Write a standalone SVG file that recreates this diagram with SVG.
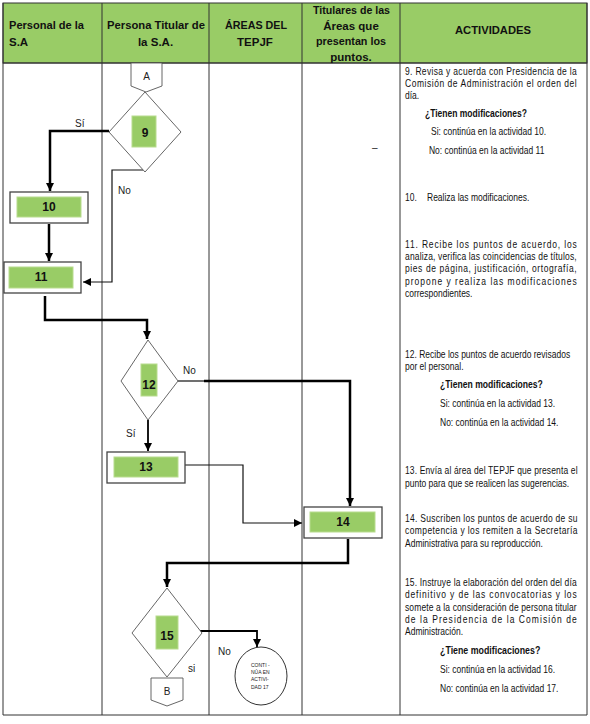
<svg xmlns="http://www.w3.org/2000/svg" width="590" height="724" viewBox="0 0 590 724">
<style>
.hd{font-family:"Liberation Sans",Arial,sans-serif;font-weight:bold;font-size:11.5px;fill:#111}
.tx{font-family:"Liberation Sans",Arial,sans-serif;font-size:10px;fill:#111}
.tb{font-family:"Liberation Sans",Arial,sans-serif;font-size:11px;font-weight:bold;fill:#111}
.nl{font-family:"Liberation Sans",Arial,sans-serif;font-weight:bold;font-size:12px;fill:#111;text-anchor:middle}
.lb{font-family:"Liberation Sans",Arial,sans-serif;font-size:10px;fill:#222}
.sm{font-family:"Liberation Sans",Arial,sans-serif;font-size:5px;fill:#222}
.box{fill:#fff;stroke:#444;stroke-width:1.3}
.grn{fill:#99cc66;stroke:#b8dc8e;stroke-width:1}
.dia{fill:#fff;stroke:#555;stroke-width:0.9}
.grid{stroke:#333;stroke-width:1;fill:none}
.thick{fill:none;stroke:#000;stroke-width:2.5}
.mid{fill:none;stroke:#000;stroke-width:1.8}
.thin{fill:none;stroke:#111;stroke-width:1.2}
</style>
<defs>
<marker id="ah" viewBox="0 0 10 10" refX="10" refY="5" markerWidth="8" markerHeight="9" markerUnits="userSpaceOnUse" orient="auto">
<path d="M0,0 L10,5 L0,10 Z" fill="#000"/>
</marker>
</defs>
<rect x="0" y="0" width="590" height="724" fill="#fff"/>
<g id="table">
<rect x="3" y="3" width="584" height="60" fill="#99cc66" stroke="#333" stroke-width="1"/>
<path class="grid" d="M3,3 V715 M587,3 V715 M102,3 V715 M209,3 V715 M302,3 V715 M400,3 V715 M3,715 H587 M3,63 H587"/>
<text class="hd" x="9" y="29" textLength="75" lengthAdjust="spacingAndGlyphs">Personal de la</text>
<text class="hd" x="9" y="46">S.A</text>
<text class="hd" x="107" y="29" textLength="98" lengthAdjust="spacingAndGlyphs">Persona Titular de</text>
<text class="hd" x="155.5" y="46" text-anchor="middle">la S.A.</text>
<text class="hd" x="256" y="29" text-anchor="middle" textLength="62" lengthAdjust="spacingAndGlyphs">ÁREAS DEL</text>
<text class="hd" x="255" y="46" text-anchor="middle">TEPJF</text>
<text class="hd" x="313" y="14" textLength="77" lengthAdjust="spacingAndGlyphs">Titulares de las</text>
<text class="hd" x="351" y="30" text-anchor="middle">Áreas que</text>
<text class="hd" x="316" y="45" textLength="70" lengthAdjust="spacingAndGlyphs">presentan los</text>
<text class="hd" x="351" y="61" text-anchor="middle">puntos.</text>
<text class="hd" x="455" y="34" textLength="76" lengthAdjust="spacingAndGlyphs">ACTIVIDADES</text>
</g>
<g id="connectors">
<path class="thick" d="M109,131 H50 V191" marker-end="url(#ah)"/>
<path class="thin" d="M143,170 H112 V282 H83" marker-end="url(#ah)"/>
<path class="thick" d="M49,224 V261" marker-end="url(#ah)"/>
<path class="thick" d="M45,296 V320 H147 V339" marker-end="url(#ah)"/>
<path class="thin" d="M178,381 H204"/>
<path class="thick" d="M204,381 H350 V506" marker-end="url(#ah)"/>
<path class="mid" d="M148,420 V451" marker-end="url(#ah)"/>
<path class="thin" d="M185,465 H243 V523 H302" marker-end="url(#ah)"/>
<path class="thick" d="M348,539 V563 H167 V587" marker-end="url(#ah)"/>
<path class="mid" d="M200,631 H257 V647" marker-end="url(#ah)"/>
</g>
<g id="labels">
<text class="lb" x="75" y="127">Sí</text>
<text class="lb" x="118" y="194">No</text>
<text class="lb" x="183" y="374">No</text>
<text class="lb" x="126" y="437">Sí</text>
<text class="lb" x="218" y="655">No</text>
<text class="lb" x="188" y="672">si</text>
<text class="lb" x="372" y="151">–</text>
</g>
<g id="nodeA">
<polygon class="dia" points="131,63 162,63 162,86 146,92 131,86"/>
<text class="lb" x="146.5" y="80" text-anchor="middle">A</text>
</g>
<g id="node9">
<polygon class="dia" points="145,92 181,132 145,172 109,132"/>
<rect class="grn" x="132" y="116" width="24" height="31"/>
<text class="nl" x="145" y="137">9</text>
</g>
<g id="node10">
<rect class="box" x="10" y="192" width="78" height="31"/>
<rect class="grn" x="17" y="197" width="64" height="20"/>
<text class="nl" x="49" y="211">10</text>
</g>
<g id="node11">
<rect class="box" x="4" y="262" width="77" height="31"/>
<rect class="grn" x="9" y="267" width="64" height="21"/>
<text class="nl" x="41" y="281">11</text>
</g>
<g id="node12">
<polygon class="dia" points="148,340 178,381 148,420 121,381"/>
<rect class="grn" x="141" y="364" width="16" height="32"/>
<text class="nl" x="149" y="389">12</text>
</g>
<g id="node13">
<rect class="box" x="107" y="452" width="78" height="31"/>
<rect class="grn" x="114" y="457" width="64" height="20"/>
<text class="nl" x="146" y="471">13</text>
</g>
<g id="node14">
<rect class="box" x="304" y="507" width="78" height="31"/>
<rect class="grn" x="310" y="512" width="65" height="20"/>
<text class="nl" x="343" y="526">14</text>
</g>
<g id="node15">
<polygon class="dia" points="167,588 202,633 167,677 132,633"/>
<rect class="grn" x="156" y="616" width="22" height="33"/>
<text class="nl" x="167" y="640">15</text>
</g>
<g id="nodeB">
<polygon class="dia" points="151,678 183,678 183,700 167,706 151,700"/>
<text class="lb" x="167" y="695" text-anchor="middle">B</text>
</g>
<g id="node17">
<ellipse cx="261" cy="676" rx="26" ry="29" fill="#fff" stroke="#333" stroke-width="1"/>
<text class="sm" x="251" y="667">CONTI -</text>
<text class="sm" x="251" y="674">NÚA EN</text>
<text class="sm" x="251" y="681">ACTIVI-</text>
<text class="sm" x="251" y="689">DAD 17</text>
</g>
<g id="activities" transform="translate(405,0) scale(0.85,1)">
<text class="tx" x="0" y="75" textLength="202" lengthAdjust="spacing">9.  Revisa y acuerda con Presidencia de la</text>
<text class="tx" x="0" y="87" textLength="202" lengthAdjust="spacing">Comisión de Administración el orden del</text>
<text class="tx" x="0" y="99">día.</text>
<text class="tb" x="23.5" y="117" textLength="120" lengthAdjust="spacingAndGlyphs">¿Tienen modificaciones?</text>
<text class="tx" x="30.6" y="135">Si: continúa en la actividad 10.</text>
<text class="tx" x="28.2" y="154">No: continúa en la actividad 11</text>
<text class="tx" x="0" y="201">10.</text>
<text class="tx" x="25.9" y="201">Realiza las modificaciones.</text>
<text class="tx" x="0" y="248" textLength="202" lengthAdjust="spacing">11. Recibe los puntos de acuerdo, los</text>
<text class="tx" x="0" y="260" textLength="202" lengthAdjust="spacing">analiza, verifica las coincidencias de títulos,</text>
<text class="tx" x="0" y="272" textLength="202" lengthAdjust="spacing">pies de página, justificación, ortografía,</text>
<text class="tx" x="0" y="285" textLength="202" lengthAdjust="spacing">propone y realiza las modificaciones</text>
<text class="tx" x="0" y="297">correspondientes.</text>
<text class="tx" x="0" y="358">12.  Recibe los puntos de acuerdo revisados</text>
<text class="tx" x="0" y="370">por el personal.</text>
<text class="tb" x="41.2" y="388" textLength="121" lengthAdjust="spacingAndGlyphs">¿Tienen modificaciones?</text>
<text class="tx" x="41.2" y="407">Si: continúa en la actividad 13.</text>
<text class="tx" x="41.2" y="426">No: continúa en la actividad 14.</text>
<text class="tx" x="0" y="474" textLength="203" lengthAdjust="spacing">13. Envía al área del TEPJF que presenta el</text>
<text class="tx" x="0" y="487">punto para que se realicen las sugerencias.</text>
<text class="tx" x="0" y="522" textLength="203" lengthAdjust="spacing">14. Suscriben los puntos de acuerdo de su</text>
<text class="tx" x="0" y="534" textLength="203" lengthAdjust="spacing">competencia y los remiten a la Secretaría</text>
<text class="tx" x="0" y="547">Administrativa para su reproducción.</text>
<text class="tx" x="0" y="586" textLength="202" lengthAdjust="spacing">15.  Instruye la elaboración del orden del día</text>
<text class="tx" x="0" y="598" textLength="202" lengthAdjust="spacing">definitivo y de las convocatorias y los</text>
<text class="tx" x="0" y="611" textLength="202" lengthAdjust="spacing">somete a la consideración de persona titular</text>
<text class="tx" x="0" y="623" textLength="202" lengthAdjust="spacing">de la Presidencia de la Comisión de</text>
<text class="tx" x="0" y="635">Administración.</text>
<text class="tb" x="41.2" y="654" textLength="118" lengthAdjust="spacingAndGlyphs">¿Tiene modificaciones?</text>
<text class="tx" x="41.2" y="673">Si: continúa en la actividad 16.</text>
<text class="tx" x="41.2" y="692">No: continúa en la actividad 17.</text>
</g>
</svg>
